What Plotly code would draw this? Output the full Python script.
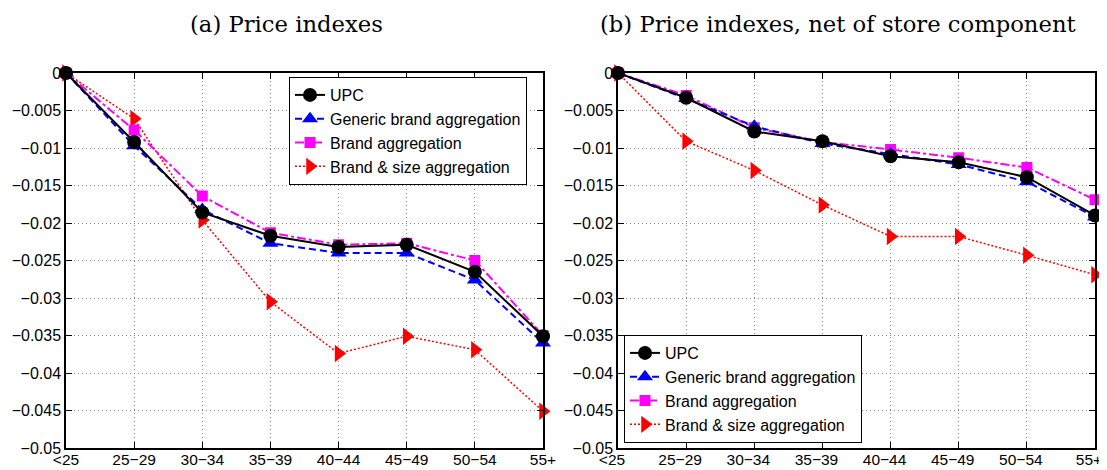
import plotly.graph_objects as go

categories = ["<25", "25\u221229", "30\u221234", "35\u221239", "40\u221244", "45\u221249", "50\u221254", "55+"]

# Panel (a): Price indexes
a_upc     = [0, -0.0092, -0.0186, -0.0217, -0.0232, -0.0229, -0.0265, -0.0351]
a_generic = [0, -0.0097, -0.0182, -0.0227, -0.0240, -0.0240, -0.0276, -0.0360]
a_brand   = [0, -0.0076, -0.0164, -0.0213, -0.0229, -0.0227, -0.0250, -0.0350]
a_bsize   = [0, -0.0061, -0.0196, -0.0305, -0.0374, -0.0351, -0.0369, -0.0451]

# Panel (b): Price indexes, net of store component
b_upc     = [0, -0.0033, -0.0078, -0.0091, -0.0111, -0.0119, -0.0139, -0.0190]
b_generic = [0, -0.0034, -0.0071, -0.0094, -0.0108, -0.0122, -0.0145, -0.0192]
b_brand   = [0, -0.0030, -0.0073, -0.0092, -0.0102, -0.0113, -0.0126, -0.0169]
b_bsize   = [0, -0.0091, -0.0130, -0.0176, -0.0218, -0.0218, -0.0243, -0.0269]

series_names = ["UPC", "Generic brand aggregation", "Brand aggregation", "Brand & size aggregation"]
titles = ["(a) Price indexes", "(b) Price indexes, net of store component"]
ytick_vals = [0, -0.005, -0.01, -0.015, -0.02, -0.025, -0.03, -0.035, -0.04, -0.045, -0.05]
ytick_text = ["0", "\u22120.005", "\u22120.01", "\u22120.015", "\u22120.02", "\u22120.025",
              "\u22120.03", "\u22120.035", "\u22120.04", "\u22120.045", "\u22120.05"]

# The page body has an 8px default margin, so the figure starts 8px in;
# it is made a bit larger than the visible area so edge labels are not clipped.
OFF = 8
W, H = 1107, 470
def px(x):
    return (x - OFF) / W
def py(y):
    return 1 - (y - OFF) / H

styles = [
    dict(color="black", dash="solid", width=2, symbol="circle", size=14),
    dict(color="blue", dash="7px,4px", width=2, symbol="triangle-up", size=14),
    dict(color="magenta", dash="dashdot", width=2, symbol="square", size=11),
    dict(color="red", dash="2px,2px", width=1.5, symbol="triangle-right", size=15),
]

fig = go.Figure()
xs = list(range(len(categories)))
panels = [
    ("x", "y", "legend", [a_upc, a_generic, a_brand, a_bsize]),
    ("x2", "y2", "legend2", [b_upc, b_generic, b_brand, b_bsize]),
]
for xa, ya, lg, data in panels:
    for i in reversed(range(4)):
        s = styles[i]
        fig.add_trace(go.Scatter(
            x=xs, y=data[i], xaxis=xa, yaxis=ya, legend=lg,
            name=series_names[i], mode="lines+markers", legendrank=i + 1,
            line=dict(color=s["color"], dash=s["dash"], width=s["width"]),
            marker=dict(color=s["color"], symbol=s["symbol"], size=s["size"], line=dict(width=0)),
            cliponaxis=False,
        ))

font_tick = dict(family="Liberation Sans, Arial, sans-serif", size=16, color="black")
grid = dict(showgrid=True, gridcolor="#888888", griddash="1px,3px", gridwidth=1)
def xax(domain, anchor, shift=0):
    return dict(domain=domain, range=[0, 7], tickvals=xs, ticktext=categories, anchor=anchor,
                showline=True, linecolor="black", linewidth=1.5, mirror="allticks",
                ticks="inside", ticklen=6, tickcolor="black", zeroline=False,
                tickfont=dict(font_tick, size=15.5), ticklabelstandoff=-3,
                ticklabeloverflow="allow", ticklabelshift=shift,
                fixedrange=True, automargin=False, **grid)
def yax(anchor):
    return dict(domain=[py(448), py(73)], range=[-0.05, 0], anchor=anchor,
                tickvals=ytick_vals, ticktext=ytick_text,
                showline=True, linecolor="black", linewidth=1.5, mirror="allticks",
                ticks="inside", ticklen=6, tickcolor="black", zeroline=False,
                tickfont=font_tick, fixedrange=True, automargin=False, **grid)

legend_common = dict(bgcolor="white", bordercolor="black", borderwidth=1,
                     font=dict(family="Liberation Sans, Arial, sans-serif", size=16, color="black"),
                     itemwidth=30, tracegroupgap=0, traceorder="normal")
title_font = dict(family="DejaVu Serif, serif", size=22.7, color="black")

fig.update_layout(
    template="none",
    width=W, height=H, margin=dict(l=0, r=0, t=0, b=0, autoexpand=False),
    paper_bgcolor="white", plot_bgcolor="white",
    xaxis=xax([px(66), px(543)], "y"),
    yaxis=yax("x"),
    xaxis2=xax([px(618), px(1095)], "y2", shift=-6),
    yaxis2=yax("x2"),
    legend=dict(legend_common, x=px(289), y=py(77), xanchor="left", yanchor="top"),
    legend2=dict(legend_common, x=px(624), y=py(443), xanchor="left", yanchor="bottom"),
    showlegend=True,
    annotations=[
        dict(text=titles[0], x=px(286), y=py(24), xref="paper", yref="paper",
             showarrow=False, xanchor="center", yanchor="middle", font=title_font),
        dict(text=titles[1], x=px(838), y=py(24), xref="paper", yref="paper",
             showarrow=False, xanchor="center", yanchor="middle", font=title_font),
    ],
)

fig.write_html("out.html")
